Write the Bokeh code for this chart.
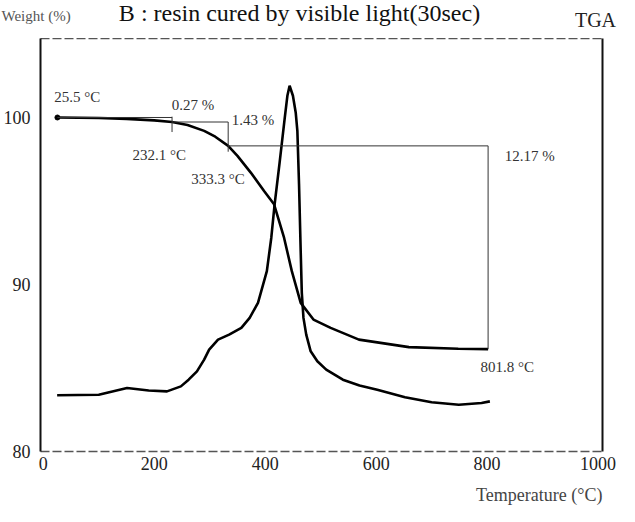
from bokeh.plotting import figure
from bokeh.layouts import column, row
from bokeh.models import Range1d, LinearAxis, FixedTicker, Label, Title
from bokeh.embed import file_html
from bokeh.resources import INLINE

# ---- data ----
temp_tga = [25.5, 100, 150, 200, 232.1, 260, 290, 310, 333.3, 350, 374, 398, 416,
            434, 448, 464, 487, 518, 569, 659, 748, 801.8]
weight_tga = [100.0, 99.97, 99.92, 99.83, 99.73, 99.55, 99.2, 98.85, 98.30, 97.7,
              96.7, 95.6, 94.8, 92.8, 90.8, 88.9, 87.9, 87.4, 86.7, 86.25, 86.15, 86.13]

temp_dtg = [25, 100, 151, 190, 223, 248, 262, 277, 290, 299, 315, 335, 357, 372,
            387, 403, 411, 417, 426, 435, 440, 444, 450, 455, 458, 461, 464, 466,
            469, 474, 482, 494, 510, 540, 570, 602, 652, 700, 749, 790, 805]
dtg = [83.37, 83.4, 83.8, 83.65, 83.6, 83.9, 84.3, 84.8, 85.5, 86.1, 86.7, 87.0,
       87.4, 88.0, 88.9, 90.8, 92.8, 94.8, 97.3, 99.9, 101.3, 101.9, 101.3, 100.3,
       99.2, 96.0, 92.0, 89.5, 88.0, 87.0, 86.0, 85.4, 84.9, 84.3, 83.95, 83.7,
       83.25, 82.95, 82.8, 82.9, 83.0]

# step annotations: onset temperatures and weights
step_temp = [25.5, 232.1, 333.3, 801.8]
step_weight = [100.0, 99.73, 98.30, 86.13]
step_loss = ["0.27 %", "1.43 %", "12.17 %"]
temp_labels = ["25.5 °C", "232.1 °C", "333.3 °C", "801.8 °C"]

x_ticks = [0, 200, 400, 600, 800, 1000]
y_ticks = [80, 90, 100]

SERIF = "Liberation Serif"

# ---- header strip with the titles (page-pixel coordinates) ----
head = figure(width=619, height=38, output_backend="svg", toolbar_location=None,
              x_range=Range1d(8, 627), y_range=Range1d(46, 8),
              x_axis_location=None, y_axis_location=None,
              min_border=0, min_border_left=0, min_border_right=0,
              min_border_top=0, min_border_bottom=0)
head.title.visible = False
head.grid.visible = False
head.outline_line_color = None
head.add_layout(Label(x=9, y=23, text="Weight (%)", text_font=SERIF,
                      text_font_size="15px", text_color="#555555",
                      text_baseline="middle", text_align="left"))
head.add_layout(Label(x=307, y=20, text="B : resin cured by visible light(30sec)",
                      text_font=SERIF, text_font_size="24px", text_color="#111111",
                      text_baseline="middle", text_align="center"))
head.add_layout(Label(x=603, y=27, text="TGA", text_font=SERIF,
                      text_font_size="20px", text_color="#222222",
                      text_baseline="middle", text_align="center"))

# ---- main plot ----
p = figure(width=619, height=476, output_backend="svg", toolbar_location=None,
           x_range=Range1d(-5, 1008), y_range=Range1d(80, 104.73),
           min_border_left=38, min_border_right=17, min_border_top=0,
           min_border_bottom=63)
p.outline_line_color = None
p.grid.visible = False

p.xaxis.ticker = FixedTicker(ticks=x_ticks)
p.yaxis.ticker = FixedTicker(ticks=y_ticks)
for ax in (p.xaxis[0], p.yaxis[0]):
    ax.major_tick_in = 0
    ax.major_tick_out = 0
    ax.minor_tick_in = 0
    ax.minor_tick_out = 0
    ax.major_label_text_font = SERIF
    ax.major_label_text_font_size = "18px"
    ax.major_label_text_color = "#222222"
p.xaxis.major_label_standoff = 5
p.yaxis.major_label_standoff = 10
p.yaxis.axis_line_width = 2
p.yaxis.axis_line_color = "#111111"
p.xaxis.axis_line_width = 1.3
p.xaxis.axis_line_color = "#555555"
p.xaxis.axis_line_dash = "9 3"

right_ax = LinearAxis(ticker=FixedTicker(ticks=[]), axis_line_width=2,
                      axis_line_color="#111111", major_tick_in=0, major_tick_out=0,
                      minor_tick_in=0, minor_tick_out=0)
top_ax = LinearAxis(ticker=FixedTicker(ticks=[]), axis_line_width=1.3,
                    axis_line_color="#555555", axis_line_dash="9 3",
                    major_tick_in=0, major_tick_out=0, minor_tick_in=0, minor_tick_out=0)
p.add_layout(right_ax, "right")
p.add_layout(top_ax, "above")

p.add_layout(Title(text="Temperature (°C)", align="right", standoff=20,
                   text_font=SERIF, text_font_size="18px", text_font_style="normal",
                   text_color="#444444"), "below")

# curves
p.line(temp_dtg, dtg, line_color="black", line_width=2.6)
p.line(temp_tga, weight_tga, line_color="black", line_width=2.6)
p.scatter([temp_tga[0]], [weight_tga[0]], size=5, color="black")

# step brackets
br = dict(line_color="#333333", line_width=1)
p.line([step_temp[0], step_temp[1]], [step_weight[0], step_weight[0]], **br)
p.line([step_temp[1], step_temp[1]], [step_weight[0] + 0.05, step_weight[1] - 0.6], **br)
p.line([step_temp[1], step_temp[2]], [step_weight[1], step_weight[1]], **br)
p.line([step_temp[2], step_temp[2]], [step_weight[1], step_weight[2] - 0.35], **br)
p.line([step_temp[2], step_temp[3]], [step_weight[2], step_weight[2]], **br)
p.line([step_temp[3], step_temp[3]], [step_weight[2], step_weight[3]], **br)

ann = dict(text_font=SERIF, text_font_size="15px", text_color="#333333",
           text_baseline="middle")
p.add_layout(Label(x=20, y=101.2, text=temp_labels[0], **ann))
p.add_layout(Label(x=270, y=100.72, text=step_loss[0], text_align="center", **ann))
p.add_layout(Label(x=209, y=97.78, text=temp_labels[1], text_align="center", **ann))
p.add_layout(Label(x=378, y=99.82, text=step_loss[1], text_align="center", **ann))
p.add_layout(Label(x=315, y=96.29, text=temp_labels[2], text_align="center", **ann))
p.add_layout(Label(x=832, y=97.72, text=step_loss[2], **ann))
p.add_layout(Label(x=788, y=85.03, text=temp_labels[3], **ann))

layout = column(row(head), p, spacing=0)
open("out.html", "w").write(file_html(layout, INLINE))
